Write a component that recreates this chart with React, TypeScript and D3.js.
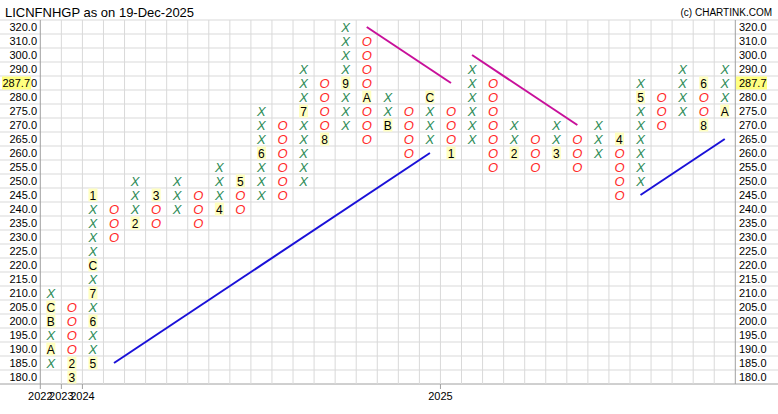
import React from "react";
import * as d3 from "d3";

// Price rows (top to bottom)
const priceRows = [320, 310, 300, 290, 285, 280, 275, 270, 265, 260, 255, 250, 245, 240, 235, 230, 225, 220, 215, 210, 205, 200, 195, 190, 185, 180];

// Column types and ranges
const colTypes = "XOXOXOXOXOXOXOXOXOXOXOXOXOXOXOXOX".split("");
const colLow = [185, 180, 185, 230, 235, 235, 240, 235, 240, 240, 245, 245, 250, 265, 270, 265, 270, 260, 265, 260, 265, 255, 260, 255, 260, 255, 260, 245, 250, 270, 275, 270, 275];
const colHigh = [210, 205, 245, 240, 250, 245, 250, 245, 255, 250, 275, 270, 290, 285, 320, 310, 280, 275, 280, 275, 290, 285, 270, 265, 270, 265, 270, 265, 285, 280, 290, 285, 290];

// Month markers: [column, price, label]
const monthMarks: [number, number, string][] = [
  [0, 190, "A"], [0, 200, "B"], [0, 205, "C"],
  [1, 185, "2"], [1, 180, "3"],
  [2, 185, "5"], [2, 200, "6"], [2, 210, "7"], [2, 220, "C"], [2, 245, "1"],
  [4, 235, "2"], [5, 245, "3"], [8, 240, "4"], [9, 250, "5"], [10, 260, "6"],
  [12, 275, "7"], [13, 265, "8"], [14, 285, "9"], [15, 280, "A"], [16, 270, "B"],
  [18, 280, "C"], [19, 260, "1"], [22, 260, "2"], [24, 260, "3"], [27, 265, "4"],
  [28, 280, "5"], [31, 285, "6"], [31, 270, "8"], [32, 275, "A"],
];

// Trend lines: [col1, price1, col2, price2, kind]
const trendLines: [number, number, number, number, string][] = [
  [3, 185, 18, 260, "up"],
  [28, 245, 32, 265, "up"],
  [15, 320, 19, 285, "down"],
  [20, 300, 25, 270, "down"],
];

// Year labels: [column boundary index, label]
const yearLabels: [number, string][] = [[0, "2022"], [1, "2023"], [2, "2024"], [19, "2025"]];

const lastPrice = "287.7";
const lastPriceRow = 285;
const title = "LICNFNHGP as on 19-Dec-2025";
const credit = "(c) CHARTINK.COM";

export default function App() {
  const W = 778, H = 414;
  const left = 40.3, right = 735.3, top = 20, bottom = 384;
  const nCols = colTypes.length;
  const x = d3.scaleBand<number>().domain(d3.range(nCols)).range([left, right]);
  const y = d3.scaleBand<number>().domain(priceRows).range([top, bottom]);
  const cw = x.bandwidth();
  const rh = y.bandwidth();
  const cx = (c: number) => (x(c) as number) + cw / 2;
  const cy = (p: number) => (y(p) as number) + rh / 2;
  const markMap = new Map<string, string>();
  monthMarks.forEach(([c, p, l]) => markMap.set(c + "_" + p, l));

  const cells: { c: number; p: number; t: string; mark?: string }[] = [];
  colTypes.forEach((t, c) => {
    priceRows.forEach((p) => {
      if (p >= colLow[c] && p <= colHigh[c]) {
        cells.push({ c, p, t, mark: markMap.get(c + "_" + p) });
      }
    });
  });

  const font = "'Liberation Sans', Arial, sans-serif";
  const grid = "#d9d9d9";
  const axisCol = "#a0a0a0";

  return (
    <svg width={W} height={H} style={{ position: "absolute", left: 0, top: 0, background: "#fff" }} fontFamily={font}>
      <rect x={0} y={0} width={W} height={H} fill="#fff" />
      {/* horizontal grid lines */}
      {d3.range(priceRows.length + 1).map((i) => {
        const yy = top + i * rh;
        return <line key={"h" + i} x1={0} x2={W} y1={yy} y2={yy} stroke={i === priceRows.length ? axisCol : grid} strokeWidth={1} />;
      })}
      {/* vertical grid lines */}
      {d3.range(nCols + 1).map((i) => {
        const xx = left + i * cw;
        const isAxis = i === 0 || i === nCols;
        return <line key={"v" + i} x1={xx} x2={xx} y1={top} y2={bottom} stroke={isAxis ? axisCol : grid} strokeWidth={1} />;
      })}
      {/* year ticks and labels */}
      {yearLabels.map(([c, l]) => {
        const xx = left + c * cw;
        return (
          <g key={"yr" + l}>
            <line x1={xx} x2={xx} y1={bottom} y2={bottom + 5} stroke={axisCol} />
            <text x={xx} y={400} fontSize={11} textAnchor="middle" fill="#000">{l}</text>
          </g>
        );
      })}
      {/* price axis labels */}
      {priceRows.map((p) => (
        <g key={"pl" + p}>
          <text x={37} y={cy(p) + 4} fontSize={11} textAnchor="end" fill="#000">{p.toFixed(1)}</text>
          <text x={739} y={cy(p) + 4} fontSize={11} textAnchor="start" fill="#000">{p.toFixed(1)}</text>
        </g>
      ))}
      {/* last price highlight */}
      <rect x={2} y={cy(lastPriceRow) - 6.5} width={29} height={13} fill="#ffff80" />
      <text x={30} y={cy(lastPriceRow) + 4} fontSize={11} textAnchor="end" fill="#000">{lastPrice}</text>
      <rect x={736} y={cy(lastPriceRow) - 6.5} width={31} height={13} fill="#ffff80" />
      <text x={739} y={cy(lastPriceRow) + 4} fontSize={11} textAnchor="start" fill="#000">{lastPrice}</text>
      {/* cells */}
      {cells.map(({ c, p, t, mark }) =>
        mark ? (
          <g key={c + "_" + p}>
            <rect x={cx(c) - 4.5} y={cy(p) - 6.5} width={9} height={13} fill="#ffffc0" />
            <text x={cx(c)} y={cy(p) + 4.5} fontSize={12} textAnchor="middle" fill="#000">{mark}</text>
          </g>
        ) : (
          <text key={c + "_" + p} x={cx(c)} y={cy(p) + 5} fontSize={13} fontStyle="italic" textAnchor="middle"
            fill={t === "X" ? "#2e8b57" : "#ff2a2a"}>{t}</text>
        )
      )}
      {/* trend lines */}
      {trendLines.map(([c1, p1, c2, p2, kind], i) => (
        <line key={"tl" + i} x1={cx(c1)} y1={cy(p1)} x2={cx(c2)} y2={cy(p2)}
          stroke={kind === "up" ? "#1a10d8" : "#c8109a"} strokeWidth={2} />
      ))}
      {/* title */}
      <text x={5} y={17} fontSize={13} fill="#000">{title}</text>
      <text x={772} y={16} fontSize={10} textAnchor="end" fill="#000">{credit}</text>
    </svg>
  );
}
